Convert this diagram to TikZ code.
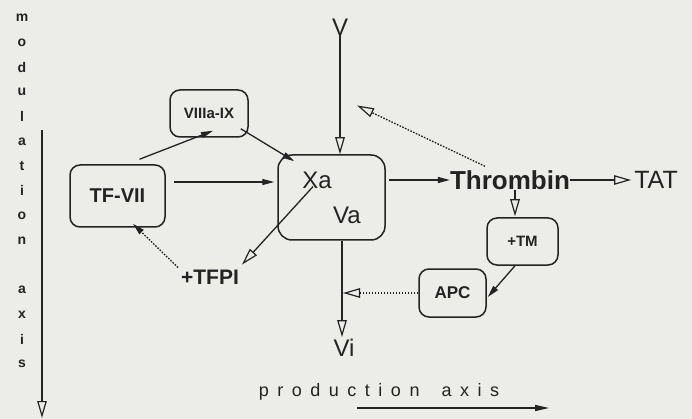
\documentclass[tikz,border=0pt]{standalone}
\usepackage{fontspec}
\setmainfont{Liberation Sans}
\usetikzlibrary{arrows.meta,calc}
\definecolor{ink}{RGB}{35,35,35}
\definecolor{paper}{RGB}{236,236,233}
\newcommand\lsk{\kern8.5pt}
\begin{document}
\begin{tikzpicture}[x=1pt,y=-1pt,
  every node/.style={text=ink,inner sep=0pt},
  boxnode/.style={draw=ink,line width=1.5pt,rounded corners=10pt,font=\bfseries},
  conn/.style={draw=ink,line width=1.3pt},
  fhead/.style={conn,-{Triangle[length=12pt,width=6pt]}},
  ohead/.style={conn,-{Triangle[open,length=17pt,width=9.5pt,line width=1.2pt]}},
  dots/.style={dash pattern=on 1.6pt off 1.4pt},
  modl/.style={font=\bfseries\fontsize{14}{14}\selectfont},
  big/.style={font=\fontsize{24}{24}\selectfont}
]
\fill[paper] (0,0) rectangle (692,419);
\useasboundingbox (0,0) rectangle (692,419);

% modulation axis letters
\foreach \c/\k in {m/0,o/1,d/2,u/3,l/4,a/5,t/6,i/7,o/8,n/9,a/11,x/12,i/13,s/14}
  \node[modl] (m\k) at (22,{18+24.7*\k}) {\c};
\coordinate (modtop) at (42,130);
\coordinate (modbot) at (42,418);
\draw[ohead] (modtop) -- (modbot);

% boxes
\node[boxnode,minimum width=95pt,minimum height=62pt,font=\bfseries\fontsize{20}{20}\selectfont] (tf) at (117.5,196) {TF-VII};
\node[boxnode,minimum width=78pt,minimum height=47pt,font=\bfseries\fontsize{15}{15}\selectfont] (viii) at (209,113.5) {VIIIa-IX};
\node[boxnode,rounded corners=14pt,minimum width=107pt,minimum height=85pt] (xbox) at (331.5,197.5) {};
\node[big] (xa) at (317,180) {Xa};
\node[big] (va) at (347,215) {Va};
\node[boxnode,minimum width=71pt,minimum height=47pt,font=\bfseries\fontsize{15}{15}\selectfont] (tm) at (522.5,241.5) {+TM};
\node[boxnode,minimum width=67pt,minimum height=48pt,font=\bfseries\fontsize{17}{17}\selectfont] (apc) at (452.5,293) {APC};

% texts
\node[font=\bfseries\fontsize{26}{26}\selectfont] (thr) at (510,180) {Thrombin};
\node[font=\fontsize{25}{25}\selectfont] (tat) at (656,180) {TAT};
\node[big] (v) at (340,27) {V};
\node[big] (vi) at (344,348) {Vi};
\node[font=\bfseries\fontsize{21}{21}\selectfont] (tfpi) at (210,277) {+TFPI};
\node[font=\fontsize{18}{18}\selectfont] (prod) at (379,392)
  {p\lsk r\lsk o\lsk d\lsk u\lsk c\lsk t\lsk i\lsk o\lsk n\lsk\ \lsk a\lsk x\lsk i\lsk s};

% connectors
\draw[ohead] (v.south) -- (v.south |- xbox.north);
\draw[fhead] ($(tf.north)+(22,-5)$) -- ($(viii.south)+(4,-7)$);
\draw[fhead] ($(viii.south east)+(-8,-9)$) -- ($(xbox.north west)+(17,7)$);
\draw[fhead] ($(tf.east)+(8,-14)$) -- ($(xbox.west)+(-3,-15.5)$);
\draw[fhead] ($(xbox.east)+(3,-17.5)$) -- (thr.west);
\draw[ohead] (thr.east) -- ($(tat.west)+(-3,0)$);
\draw[ohead] ($(thr.south)+(5,0)$) -- ($(tm.north)+(-7.5,-1)$);
\draw[ohead,dots] ($(thr.north)+(-25,-4)$) -- ($(v.south)+(17,70)$);
\draw[ohead] ($(xa.south)+(-4,-2)$) -- ($(tfpi.north)+(32,-5)$);
\draw[fhead,dots] ($(tfpi.north)+(-32,-2)$) -- ($(tf.south)+(15.5,-4)$);
\draw[fhead] ($(tm.south)+(-7.5,0)$) -- ($(apc.east)+(1,4)$);
\coordinate (vline) at (xbox.south -| v.south);
\draw[ohead] ($(vline)+(2,0)$) -- ($(vi.north)+(-2,-2)$);
\draw[ohead,dots] (apc.west) -- ($(apc.west -| vline)+(3,0)$);
\coordinate (pstart) at (357,408);
\coordinate (pend) at (549,408);
\draw[conn,-{Triangle[length=14pt,width=6pt]}] (pstart) -- (pend);
\end{tikzpicture}
\end{document}
